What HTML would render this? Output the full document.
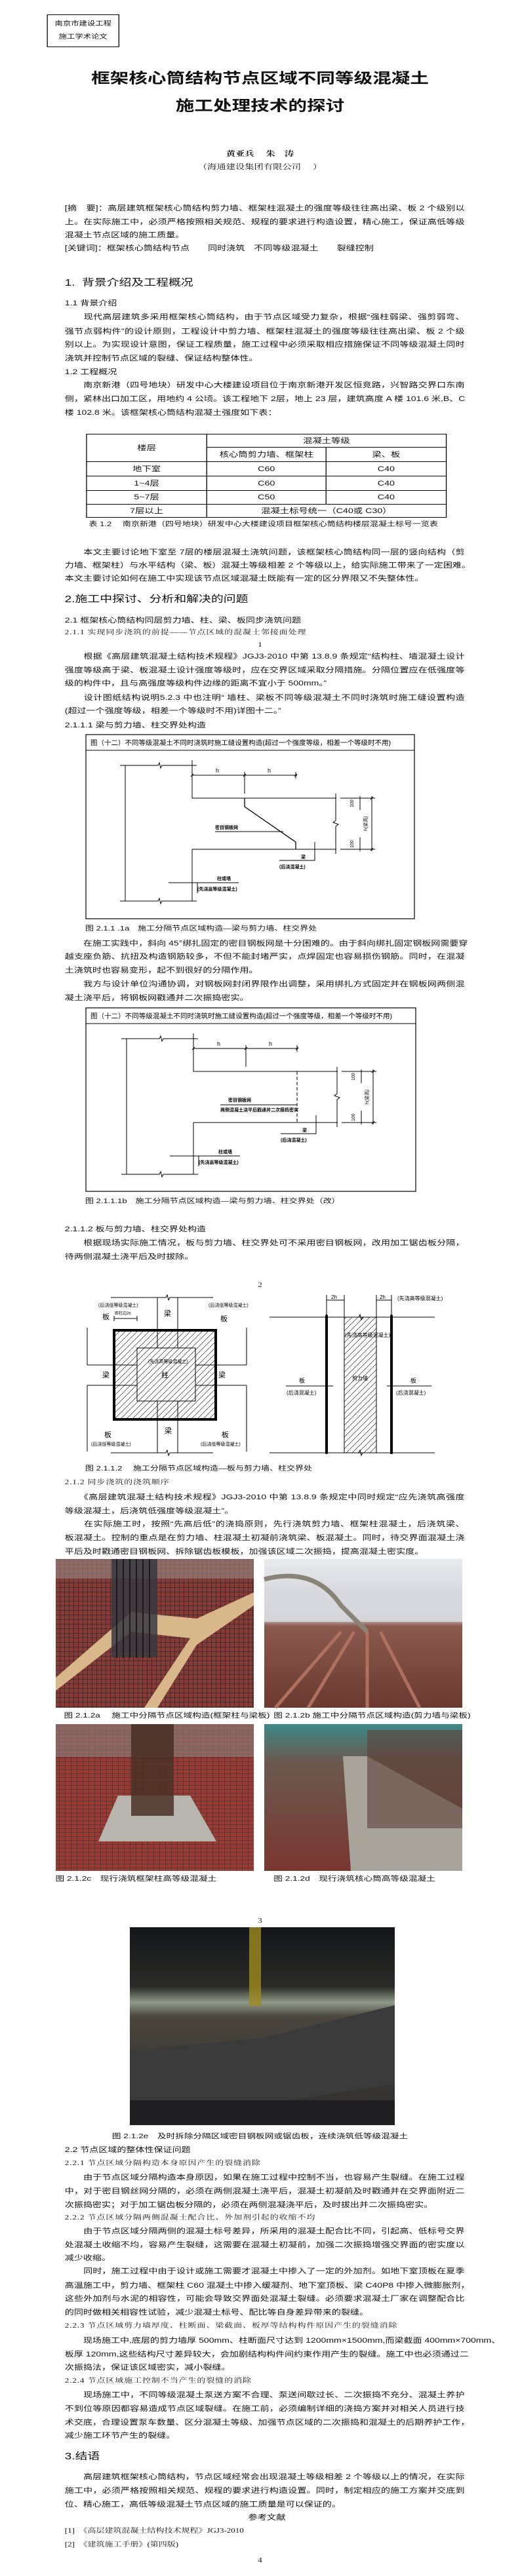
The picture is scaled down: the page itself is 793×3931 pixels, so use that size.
<!DOCTYPE html>
<html><head><meta charset="utf-8">
<style>
html,body{margin:0;padding:0;background:#fff;}
body{width:793px;height:3931px;overflow:hidden;position:relative;}
#p{position:absolute;left:0;top:0;width:610px;height:3931px;transform:scaleX(1.3);transform-origin:0 0;color:#111;}
.l{position:absolute;left:76px;width:469px;height:20px;line-height:20px;font-size:10.8px;white-space:nowrap;font-family:"Liberation Sans","Noto Sans CJK SC",sans-serif;}
.j{text-align:justify;text-align-last:justify;}
.f{font-family:"Liberation Serif","Noto Serif CJK SC",serif;font-size:10px;letter-spacing:0.7px;}
.h1{font-size:14.5px;}
.cap{font-size:10px;}
.c{position:absolute;left:0;width:610px;text-align:center;white-space:nowrap;font-family:"Liberation Sans","Noto Sans CJK SC",sans-serif;}
.pn{position:absolute;left:0;width:610px;text-align:center;font-family:"Liberation Serif","Noto Serif CJK SC",serif;font-size:10px;line-height:14px;}
table.t{position:absolute;left:101px;top:662px;border-collapse:collapse;font-family:"Liberation Sans","Noto Sans CJK SC",sans-serif;font-size:11px;}
table.t td{border:1px solid #000;text-align:center;padding:0;line-height:14px;}
</style></head><body>
<div id="p">
<!-- header box -->
<div style="position:absolute;left:55px;top:22px;width:85px;height:50px;border:1px solid #000;font-family:'Liberation Sans','Noto Sans CJK SC',sans-serif;font-size:9.5px;text-align:center;line-height:20px;padding-top:4px;box-sizing:border-box;">南京市建设工程<br>施工学术论文</div>

<div class="c" style="top:106px;font-size:22px;line-height:28px;font-weight:bold;">框架核心筒结构节点区域不同等级混凝土</div>
<div class="c" style="top:148px;font-size:22px;line-height:28px;font-weight:bold;">施工处理技术的探讨</div>
<div class="c" style="top:226px;font-size:11px;line-height:18px;font-family:'Liberation Serif','Noto Serif CJK SC',serif;font-weight:bold;">黄亚兵　 朱　涛</div>
<div class="c" style="top:246px;font-size:11px;line-height:18px;font-family:'Liberation Serif','Noto Serif CJK SC',serif;">（海通建设集团有限公司　 ）</div>

<div class="l j" style="top:308px">[摘　要]：高层建筑框架核心筒结构剪力墙、框架柱混凝土的强度等级往往高出梁、板 2 个级别以</div>
<div class="l j" style="top:329px">上。在实际施工中，必须严格按照相关规范、规程的要求进行构造设置，精心施工，保证高低等级</div>
<div class="l" style="top:349px">混凝土节点区域的施工质量。</div>
<div class="l" style="top:369px">[关键词]：框架核心筒结构节点　　同时浇筑　不同等级混凝土　　裂缝控制</div>

<div class="l h1" style="top:420px;height:24px;line-height:24px;">1.&nbsp; 背景介绍及工程概况</div>
<div class="l" style="top:453px">1.1 背景介绍</div>
<div class="l j" style="top:474px">　　现代高层建筑多采用框架核心筒结构，由于节点区域受力复杂，根据“强柱弱梁、强剪弱弯、</div>
<div class="l j" style="top:496px">强节点弱构件”的设计原则，工程设计中剪力墙、框架柱混凝土的强度等级往往高出梁、板 2 个级</div>
<div class="l j" style="top:516px">别以上。为实现设计意图，保证工程质量，施工过程中必须采取相应措施保证不同等级混凝土同时</div>
<div class="l" style="top:537px">浇筑并控制节点区域的裂缝、保证结构整体性。</div>
<div class="l" style="top:558px">1.2 工程概况</div>
<div class="l j" style="top:578px">　　南京新港（四号地块）研发中心大楼建设项目位于南京新港开发区恒竞路，兴智路交界口东南</div>
<div class="l j" style="top:599px">侧，紧林出口加工区，用地约 4 公顷。该工程地下 2层，地上 23 层，建筑高度 A 楼 101.6 米,B、C</div>
<div class="l" style="top:620px">楼 102.8 米。该框架核心筒结构混凝土强度如下表：</div>

<table class="t">
<tr style="height:20px"><td rowspan="2" style="width:140px">楼层</td><td colspan="2">混凝土等级</td></tr>
<tr style="height:22px"><td style="width:139px">核心筒剪力墙、框架柱</td><td style="width:140px">梁、板</td></tr>
<tr style="height:22px"><td>地下室</td><td>C60</td><td>C40</td></tr>
<tr style="height:22px"><td>1~4层</td><td>C60</td><td>C40</td></tr>
<tr style="height:21px"><td>5~7层</td><td>C50</td><td>C40</td></tr>
<tr style="height:20px"><td>7层以上</td><td colspan="2">混凝土标号统一（C40或 C30）</td></tr>
</table>
<div class="c cap" style="top:794px;line-height:14px;left:4px;">表 1.2　 南京新港（四号地块）研发中心大楼建设项目框架核心筒结构楼层混凝土标号一览表</div>

<div class="l j" style="top:833px">　　本文主要讨论地下室至 7层的楼层混凝土浇筑问题，该框架核心筒结构同一层的竖向结构（剪</div>
<div class="l j" style="top:853px">力墙、框架柱）与水平结构（梁、板）混凝土等级相差 2 个等级以上，给实际施工带来了一定困难。</div>
<div class="l" style="top:873px">本文主要讨论如何在施工中实现该节点区域混凝土既能有一定的区分界限又不失整体性。</div>

<div class="l h1" style="top:903px;height:24px;line-height:24px;">2.施工中探讨、分析和解决的问题</div>
<div class="l" style="top:937px">2.1 框架核心筒结构同层剪力墙、柱、梁、板同步浇筑问题</div>
<div class="l f" style="top:956px">2.1.1 实现同步浇筑的前提——节点区域的混凝土邻接面处理</div>
<div class="pn" style="top:978px">1</div>

<div class="l j" style="top:992px">　　根据《高层建筑混凝土结构技术规程》JGJ3-2010 中第 13.8.9 条规定“结构柱、墙混凝土设计</div>
<div class="l j" style="top:1013px">强度等级高于梁、板混凝土设计强度等级时，应在交界区域采取分隔措施。分隔位置应在低强度等</div>
<div class="l" style="top:1033px">级的构件中，且与高强度等级构件边缘的距离不宜小于 500mm。”</div>
<div class="l j" style="top:1055px">　　设计图纸结构说明5.2.3 中也注明“ 墙柱、梁板不同等级混凝土不同时浇筑时施工缝设置构造</div>
<div class="l" style="top:1075px">(超过一个强度等级，相差一个等级时不用)详图十二。”</div>
<div class="l" style="top:1097px">2.1.1.1 梁与剪力墙、柱交界处构造</div>

<div class="l cap" style="top:1408px;left:100px;">图 2.1.1 .1a　施工分隔节点区域构造—梁与剪力墙、柱交界处</div>
<div class="l j" style="top:1430px">　　在施工实践中，斜向 45°绑扎固定的密目钢板网是十分困难的。由于斜向绑扎固定钢板网需要穿</div>
<div class="l j" style="top:1450px">越支座负筋、抗扭及构造钢筋较多，不但不能封堵严实，点焊固定也容易损伤钢筋。同时，在混凝</div>
<div class="l" style="top:1471px">土浇筑时也容易变形，起不到很好的分隔作用。</div>
<div class="l j" style="top:1492px">　　我方与设计单位沟通协调，对钢板网封闭界限作出调整，采用绑扎方式固定并在钢板网两侧混</div>
<div class="l" style="top:1513px">凝土浇平后，将钢板网戳通并二次振捣密实。</div>

<div class="l cap" style="top:1824px;left:100px;">图 2.1.1.1b　施工分隔节点区域构造—梁与剪力墙、柱交界处（改）</div>
<div class="l" style="top:1866px">2.1.1.2 板与剪力墙、柱交界处构造</div>
<div class="l j" style="top:1887px">　　根据现场实际施工情况，板与剪力墙、柱交界处可不采用密目钢板网，改用加工锯齿板分隔，</div>
<div class="l" style="top:1908px">待两侧混凝土浇平后及时拔除。</div>
<div class="pn" style="top:1955px">2</div>

<div class="l cap" style="top:2232px;left:100px;">图 2.1.1.2　 施工分隔节点区域构造—板与剪力墙、柱交界处</div>
<div class="l f" style="top:2253px">2.1.2 同步浇筑的浇筑顺序</div>
<div class="l j" style="top:2275px">　　《高层建筑混凝土结构技术规程》JGJ3-2010 中第 13.8.9 条规定中同时规定“应先浇筑高强度</div>
<div class="l" style="top:2296px">等级混凝土，后浇筑低强度等级混凝土”。</div>
<div class="l j" style="top:2316px">　　在实际施工时，按照“先高后低”的浇捣原则，先行浇筑剪力墙、框架柱混凝土，后浇筑梁、</div>
<div class="l j" style="top:2337px">板混凝土。控制的重点是在剪力墙、柱混凝土初凝前浇筑梁、板混凝土。同时，待交界面混凝土浇</div>
<div class="l" style="top:2358px">平后及时戳通密目钢板网、拆除锯齿板模板，加强该区域二次振捣，提高混凝土密实度。</div>

<div class="l cap" style="top:2608px;left:75px;font-size:10.5px;">图 2.1.2a　 施工中分隔节点区域构造(框架柱与梁板)</div>
<div class="l cap" style="top:2608px;left:321px;font-size:10.5px;">图 2.1.2b 施工中分隔节点区域构造(剪力墙与梁板)</div>
<div class="l cap" style="top:2857px;left:65px;font-size:10.5px;">图 2.1.2c　现行浇筑框架柱高等级混凝土</div>
<div class="l cap" style="top:2857px;left:321px;font-size:10.5px;">图 2.1.2d　现行浇筑核心筒高等级混凝土</div>
<div class="pn" style="top:2925px">3</div>
<div class="c cap" style="top:3250px;line-height:20px;font-size:10.5px;">图 2.1.2e　及时拆除分隔区域密目钢板网或锯齿板，连续浇筑低等级混凝土</div>

<div class="l" style="top:3271px">2.2 节点区域的整体性保证问题</div>
<div class="l f" style="top:3292px">2.2.1 节点区域分隔构造本身原因产生的裂缝消除</div>
<div class="l j" style="top:3313px">　　由于节点区域分隔构造本身原因，如果在施工过程中控制不当，也容易产生裂缝。在施工过程</div>
<div class="l j" style="top:3334px">中，对于密目钢丝网分隔的，必须在两侧混凝土浇平后，混凝土初凝前及时戳通并在交界面附近二</div>
<div class="l" style="top:3355px">次振捣密实；对于加工锯齿板分隔的，必须在两侧混凝浇平后，及时拔出并二次振捣密实。</div>
<div class="l f" style="top:3375px">2.2.2 节点区域分隔两侧混凝土配合比、外加剂引起的收缩不均</div>
<div class="l j" style="top:3395px">　　由于节点区域分隔两侧的混凝土标号差异，所采用的混凝土配合比不同，引起高、低标号交界</div>
<div class="l j" style="top:3416px">处混凝土收缩不均，容易产生裂缝，这需要在混凝土初凝前，加强二次振捣增强交界面的密实度以</div>
<div class="l" style="top:3436px">减少收缩。</div>
<div class="l j" style="top:3456px">　　同时，施工过程中由于设计或施工需要才混凝土中掺入了一定的外加剂。如地下室顶板在夏季</div>
<div class="l j" style="top:3478px">高温施工中，剪力墙、框架柱 C60 混凝土中掺入缓凝剂、地下室顶板、梁 C40P8 中掺入微膨胀剂，</div>
<div class="l j" style="top:3498px">这些外加剂与水泥的相容性，可能会导致交界面处混凝土裂缝。必须要求混凝土厂家在调整配合比</div>
<div class="l" style="top:3519px">的同时做相关相容性试验，减少混凝土标号、配比等自身差异带来的裂缝。</div>
<div class="l f" style="top:3540px">2.2.3 节点区域剪力墙厚度、柱断面、梁截面、板厚等结构构件原因产生的裂缝消除</div>
<div class="l j" style="top:3562px">　　现场施工中,底层的剪力墙厚 500mm、柱断面尺寸达到 1200mm×1500mm,而梁截面 400mm×700mm、</div>
<div class="l j" style="top:3583px">板厚 120mm,这些结构尺寸差异较大，会加剧结构构件间约束作用产生的裂缝。施工中也必须通过二</div>
<div class="l" style="top:3603px">次振捣法，保证该区域密实，减小裂缝。</div>
<div class="l f" style="top:3624px">2.2.4 节点区域施工控制不当产生的裂缝的消除</div>
<div class="l j" style="top:3645px">　　现场施工中，不同等级混凝土泵送方案不合理、泵送间歇过长、二次振捣不充分、混凝土养护</div>
<div class="l j" style="top:3666px">不到位等原因都容易造成节点区域裂缝。在施工前，必须编制详细的浇捣方案并对相关人员进行技</div>
<div class="l j" style="top:3687px">术交底，合理设置泵车数量、区分混凝土等级、加强节点区域的二次振捣和混凝土的后期养护工作，</div>
<div class="l" style="top:3707px">减少施工环节产生的裂缝。</div>
<div class="l h1" style="top:3737px;height:24px;line-height:24px;">3.结语</div>
<div class="l j" style="top:3770px">　　高层建筑框架核心筒结构，节点区域经常会出现混凝土等级相差 2 个等级以上的情况，在实际</div>
<div class="l j" style="top:3791px">施工中，必须严格按照相关规范、规程的要求进行构造设置。同时，制定相应的施工方案并交底到</div>
<div class="l" style="top:3812px">位、精心施工，高低等级混凝土节点区域的施工质量是可以保证的。</div>
<div class="c" style="top:3832px;font-size:11px;line-height:20px;left:8px;">参考文献</div>
<div class="l f" style="top:3853px;letter-spacing:0">[1]&nbsp; 《高层建筑混凝土结构技术规程》JGJ3-2010</div>
<div class="l f" style="top:3874px;letter-spacing:0">[2]&nbsp; 《建筑施工手册》(第四版)</div>
<div class="pn" style="top:3901px">4</div>

<svg style="position:absolute;left:0;top:0" width="610" height="3931" viewBox="0 0 793 3931" preserveAspectRatio="none" font-family="Liberation Sans, Noto Sans CJK SC, sans-serif">
<defs>
<pattern id="hat" patternUnits="userSpaceOnUse" width="9" height="9"><path d="M0 9 L9 0 M-2 2 L2 -2 M7 11 L11 7" stroke="#000" stroke-width="0.6"/></pattern>
<pattern id="grid" patternUnits="userSpaceOnUse" width="7" height="7"><rect width="7" height="7" fill="#8a3a34"/><path d="M0 0H7M0 0V7" stroke="#2c2a30" stroke-width="1.6"/></pattern>
<pattern id="grid2" patternUnits="userSpaceOnUse" width="9" height="6"><rect width="9" height="6" fill="#9a3c34"/><path d="M0 0H9M0 0V6" stroke="#3a3234" stroke-width="1.2"/></pattern>
<linearGradient id="sky" x1="0" y1="0" x2="0" y2="1"><stop offset="0" stop-color="#e8eaee"/><stop offset="0.4" stop-color="#c9ccd0"/><stop offset="0.45" stop-color="#8a5a4e"/><stop offset="1" stop-color="#6a3a30"/></linearGradient>
<linearGradient id="night" x1="0" y1="0" x2="0" y2="1"><stop offset="0" stop-color="#15161a"/><stop offset="0.3" stop-color="#2a2a26"/><stop offset="0.38" stop-color="#8f9a88"/><stop offset="0.45" stop-color="#4a463c"/><stop offset="1" stop-color="#2c2c2e"/></linearGradient>
<linearGradient id="teal" x1="0" y1="0" x2="0" y2="1"><stop offset="0" stop-color="#3c8a86"/><stop offset="0.25" stop-color="#6a5a50"/><stop offset="1" stop-color="#7a3630"/></linearGradient>
</defs>
<g fill="none" stroke="#000" stroke-width="1">
<!-- Fig 1 -->
<rect x="131" y="1121" width="501" height="281" stroke-width="1.2"/>
<line x1="131" y1="1145" x2="632" y2="1145"/>
<path d="M183 1168 H241 l2 -4 l2 8 l2 -4 H300"/>
<path d="M191 1168 V1375"/>
<path d="M183 1375 H241 l2 -4 l2 8 l2 -4 H300"/>
<path d="M293 1160 V1218 H513"/>
<path d="M293 1296 H513 M293 1296 V1375"/>
<path d="M373 1218 V1231 L451 1285 V1296" stroke-width="1.3"/>
<path d="M293 1183 H453 M373 1178 V1211 M451 1178 V1188 M291 1185 l4 -4 M371 1185 l4 -4 M449 1185 l4 -4"/>
<path d="M512 1211 V1252 l-4 3 l8 3 l-4 3 V1303"/>
<path d="M519 1218 H572 M519 1296 H572 M567 1215 V1299 M549 1215 V1236 M549 1278 V1299 M565 1220 l4 -4 M565 1298 l4 -4"/>
<path d="M328 1269 H432"/>
<path d="M426 1313 H480 V1285"/>
<path d="M257 1347 H364 M301 1347 V1363"/>
<!-- Fig 2 -->
<g transform="translate(2,417)">
<rect x="129" y="1121" width="503" height="280" stroke-width="1.2"/>
<line x1="129" y1="1145" x2="632" y2="1145"/>
<path d="M183 1168 H241 l2 -4 l2 8 l2 -4 H300"/>
<path d="M191 1168 V1375"/>
<path d="M183 1375 H241 l2 -4 l2 8 l2 -4 H300"/>
<path d="M293 1160 V1218 H513"/>
<path d="M293 1296 H513 M293 1296 V1375"/>
<path d="M451 1218 V1296" stroke-dasharray="5 3"/>
<path d="M293 1183 H453 M373 1178 V1211 M451 1178 V1188 M291 1185 l4 -4 M371 1185 l4 -4 M449 1185 l4 -4"/>
<path d="M512 1211 V1252 l-4 3 l8 3 l-4 3 V1303"/>
<path d="M519 1218 H572 M519 1296 H572 M567 1215 V1299 M549 1215 V1236 M549 1278 V1299 M565 1220 l4 -4 M565 1298 l4 -4"/>
<path d="M334 1269 H451"/>
<path d="M426 1313 H480 V1285"/>
<path d="M257 1347 H364 M301 1347 V1363"/>
</g>
<!-- Fig 2.1.1.2 left -->
<rect x="174" y="2030" width="155" height="136" fill="url(#hat)" stroke="none"/>
<rect x="174" y="2030" width="155" height="136" stroke-width="4"/>
<rect x="209" y="2057" width="89" height="81"/>
<path d="M169 1980 H253 l2 -4 l2 8 l2 -4 H325"/>
<path d="M169 2217 H253 l2 -4 l2 8 l2 -4 H325"/>
<path d="M240 1980 V2057 M271 1980 V2057 M240 2138 V2217 M271 2138 V2217"/>
<path d="M133 2083 H209 M133 2114 H209 M298 2083 H376 M298 2114 H376"/>
<path d="M133 2026 V2083 M133 2114 V2215 M376 2026 V2083 M376 2114 V2215"/>
<path d="M174 2012 H209 M174 2008 V2016 M209 2008 V2016"/>
<!-- right -->
<rect x="525" y="2010" width="49" height="207" fill="url(#hat)"/>
<path d="M411 2010 H547 l2 -4 l2 8 l2 -4 H663"/>
<path d="M411 2217 H547 l2 -4 l2 8 l2 -4 H663"/>
<path d="M498 2008 V2217 M597 2008 V2217" stroke-width="4" stroke-linecap="round"/>
<path d="M498 1984 H525 M574 1984 H597 M498 1976 V2008 M525 1976 V2010 M574 1976 V2010 M597 1976 V2008"/>
<path d="M436 2115 H508 M590 2115 H658"/>
</g>
<g font-size="8" fill="#000">
<text x="138" y="1137" font-size="10" textLength="458" lengthAdjust="spacingAndGlyphs">图（十二）不同等级混凝土不同时浇筑时施工缝设置构造(超过一个强度等级，相差一个等级时不用)</text>
<text x="329" y="1179" font-size="9">h</text><text x="408" y="1179" font-size="9">h</text>
<text x="328" y="1265" font-size="7" font-weight="bold">密目钢板网</text>
<text x="459" y="1310" font-size="7" font-weight="bold">梁</text>
<text x="426" y="1325" font-size="7" font-weight="bold">(后浇混凝土)</text>
<text x="331" y="1343" font-size="7" font-weight="bold">柱或墙</text>
<text x="301" y="1359" font-size="7" font-weight="bold">(先浇高等级混凝土)</text>
<text transform="translate(539,1232) rotate(-90)" font-size="7">100</text>
<text transform="translate(539,1294) rotate(-90)" font-size="7">100</text>
<text transform="translate(560,1268) rotate(-90)" font-size="7">h(梁高)</text>
<g transform="translate(2,417)">
<text x="136" y="1137" font-size="10" textLength="460" lengthAdjust="spacingAndGlyphs">图（十二）不同等级混凝土不同时浇筑时施工缝设置构造(超过一个强度等级，相差一个等级时不用)</text>
<text x="329" y="1179" font-size="9">h</text><text x="408" y="1179" font-size="9">h</text>
<text x="346" y="1264" font-size="7" font-weight="bold">密目钢板网</text>
<text x="334" y="1279" font-size="7" font-weight="bold">两侧混凝土浇平后戳通并二次振捣密实</text>
<text x="459" y="1310" font-size="7" font-weight="bold">梁</text>
<text x="426" y="1325" font-size="7" font-weight="bold">(后浇混凝土)</text>
<text x="331" y="1343" font-size="7" font-weight="bold">柱或墙</text>
<text x="301" y="1359" font-size="7" font-weight="bold">(先浇高等级混凝土)</text>
<text transform="translate(539,1232) rotate(-90)" font-size="7">100</text>
<text transform="translate(539,1294) rotate(-90)" font-size="7">100</text>
<text transform="translate(560,1268) rotate(-90)" font-size="7">h(梁高)</text>
</g>
<text x="150" y="1994" font-size="7">(后浇低等级混凝土)</text>
<text x="156" y="2013" font-size="11">板</text>
<text x="250" y="2008" font-size="11">梁</text>
<text x="175" y="2006" font-size="6">距柱边2h</text>
<text x="318" y="1994" font-size="7">(后浇低等级混凝土)</text>
<text x="336" y="2016" font-size="11">板</text>
<text x="226" y="2080" font-size="7">(先浇高等级混凝土)</text>
<text x="156" y="2102" font-size="11">梁</text>
<text x="246" y="2102" font-size="11">柱</text>
<text x="333" y="2102" font-size="11">梁</text>
<text x="251" y="2187" font-size="11">梁</text>
<text x="159" y="2193" font-size="11">板</text>
<text x="338" y="2193" font-size="11">板</text>
<text x="139" y="2206" font-size="7">(后浇低等级混凝土)</text>
<text x="306" y="2206" font-size="7">(后浇低等级混凝土)</text>
<text x="505" y="1982" font-size="8">2h</text>
<text x="579" y="1982" font-size="8">2h</text>
<text x="606" y="1984" font-size="8">(先浇高等级混凝土)</text>
<text x="526" y="2040" font-size="8">(先浇高等级混凝土)</text>
<text x="537" y="2106" font-size="8">剪力墙</text>
<text x="456" y="2110" font-size="9">板</text>
<text x="437" y="2128" font-size="8">(后浇混凝土)</text>
<text x="626" y="2110" font-size="9">板</text>
<text x="604" y="2128" font-size="8">(后浇混凝土)</text>
</g>
<!-- photos -->
<rect x="85" y="2379" width="302" height="227" fill="url(#grid)"/>
<rect x="85" y="2379" width="302" height="30" fill="#9a8a86" opacity="0.6"/>
<polygon points="85,2560 200,2460 300,2470 387,2430 387,2450 300,2510 240,2606 220,2606 290,2500 200,2490 85,2580" fill="#d8b88a"/>
<rect x="170" y="2379" width="70" height="150" fill="#3a3840" opacity="0.85"/>
<path d="M178 2379V2530M188 2379V2530M198 2379V2530M208 2379V2530M218 2379V2530M228 2379V2530" stroke="#1a1a20" stroke-width="2"/>
<rect x="403" y="2379" width="302" height="227" fill="url(#sky)"/>
<rect x="403" y="2420" width="302" height="55" fill="#d8dade" opacity="0.8"/>
<path d="M403 2410 Q480 2390 520 2450 L560 2490" stroke="#8a8478" stroke-width="7" fill="none"/>
<path d="M420 2606 L520 2490 M470 2606 L540 2490 M560 2606 L560 2490 M640 2606 L580 2490" stroke="#b07060" stroke-width="5"/>
<rect x="85" y="2631" width="302" height="224" fill="url(#grid2)"/>
<rect x="85" y="2631" width="302" height="50" fill="#8a8080" opacity="0.6"/>
<polygon points="180,2740 290,2740 330,2810 150,2810" fill="#b8b4ae"/>
<rect x="200" y="2631" width="65" height="140" fill="#4a3028" opacity="0.85"/>
<rect x="403" y="2631" width="302" height="224" fill="url(#teal)"/>
<polygon points="523,2680 560,2680 705,2760 705,2855 535,2855" fill="#a8a49c"/>
<rect x="560" y="2640" width="145" height="150" fill="#5a4038" opacity="0.6"/>
<rect x="198" y="2941" width="404" height="302" fill="url(#night)"/>
<rect x="380" y="2941" width="18" height="120" fill="#a08a20" opacity="0.8"/>
<polygon points="198,3130 400,3110 602,3060 602,3180 198,3243" fill="#3a3a3a"/>
<rect x="198" y="3205" width="404" height="38" fill="#1e1e20"/>
</svg>
</div>
</body></html>
